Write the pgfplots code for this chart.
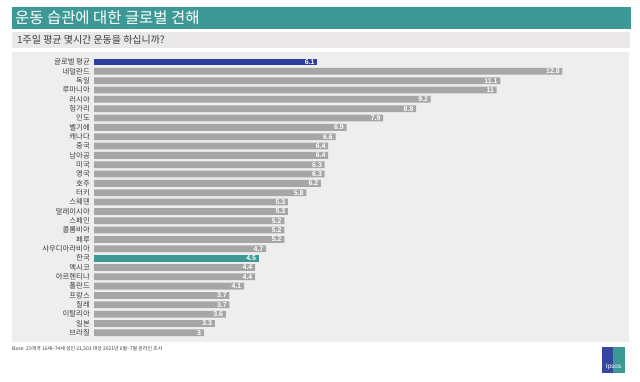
\documentclass[border=0pt]{standalone}
\usepackage{fontspec}
\setmainfont{Noto Sans CJK KR}
\newfontfamily\numfont{Liberation Sans}
\usepackage{pgfplots}
\pgfplotsset{compat=1.18}
\usepackage{pgfplotstable}
\definecolor{teal1}{RGB}{60,153,150}
\definecolor{navy1}{RGB}{46,62,158}
\definecolor{bargray}{RGB}{166,166,166}
\definecolor{panel}{RGB}{239,238,239}
\definecolor{subband}{RGB}{234,232,233}
\definecolor{labgray}{RGB}{60,60,60}
\definecolor{logoblue}{RGB}{52,72,160}

\pgfplotstableread{
y x
0 6.1
}\globaldata
\pgfplotstableread{
y x
21 4.5
}\koreadata
\pgfplotstableread{
y x
1 12.8
2 11.1
3 11
4 9.2
5 8.8
6 7.9
7 6.9
8 6.6
9 6.4
10 6.4
11 6.3
12 6.3
13 6.2
14 5.8
15 5.3
16 5.3
17 5.2
18 5.2
19 5.2
20 4.7
22 4.4
23 4.4
24 4.1
25 3.7
26 3.7
27 3.6
28 3.3
29 3
}\restdata

\begin{document}
\begin{tikzpicture}[x=1bp,y=1bp]
\useasboundingbox (0,0) rectangle (640,381);
\fill[white] (0,0) rectangle (640,381);
% title bar
\fill[teal1] (12,352) rectangle (631,374);
\node[anchor=west,text=white,inner sep=0] at (15,363) {\fontsize{15.5}{17}\selectfont 운동 습관에 대한 글로벌 견해};
% subtitle band
\fill[subband] (12,333) rectangle (630,349);
\node[anchor=west,text=labgray,inner sep=0] at (17,341) {\fontsize{10}{12}\selectfont 1주일 평균 몇시간 운동을 하십니까?};
% panel
\fill[panel] (12,39) rectangle (629,329);
% footnote
\node[anchor=west,text=labgray,inner sep=0] at (12,32) {\fontsize{5}{6}\selectfont \textit{Base}: 29개국 16세\textasciitilde74세 성인 21,503 대상 2021년 6월\textasciitilde7월 온라인 조사};
% logo
\fill[teal1] (602,8) rectangle (625,34);
\fill[logoblue] (602,8) rectangle (613,34);
\fill[logoblue] (609,20) -- (609,31) .. controls (616,31) and (617,24) .. (613,20) -- cycle;
\fill[teal1] (613,20) -- (613,31) .. controls (619,31) and (620,24) .. (616,20) -- cycle;
\node[text=white,inner sep=0] at (613.5,14) {\numfont\fontsize{6.5}{7}\selectfont Ipsos};

\begin{axis}[
  at={(94bp,43.5bp)}, anchor=south west,
  scale only axis, width=512.4bp, height=280.2bp,
  xmin=0, xmax=14, ymin=-0.5, ymax=29.5,
  y dir=reverse,
  xbar, bar width=6.8bp, bar shift=0pt,
  axis line style={draw=none},
  major tick length=0pt,
  xtick=\empty,
  ytick={0,...,29},
  yticklabels={글로벌 평균,네덜란드,독일,루마니아,러시아,헝가리,인도,벨기에,캐나다,중국,남아공,미국,영국,호주,터키,스웨덴,말레이시아,스페인,콜롬비아,페루,사우디아라비아,한국,멕시코,아르헨티나,폴란드,프랑스,칠레,이탈리아,일본,브라질},
  yticklabel style={font=\fontsize{7.4}{8}\selectfont, text=labgray, inner sep=1bp, xshift=-3bp},
  nodes near coords,
  point meta=x,
  /pgf/number format/assume math mode=true,
  every node near coord/.append style={anchor=east, xshift=-2bp, text=white, font=\numfont\bfseries\fontsize{7}{7}\selectfont, inner sep=0.5bp},
  clip=false,
]
\addplot[fill=navy1, draw=none] table[x=x,y=y] {\globaldata};
\addplot[fill=teal1, draw=none] table[x=x,y=y] {\koreadata};
\addplot[fill=bargray, draw=none] table[x=x,y=y] {\restdata};
\end{axis}
\end{tikzpicture}
\end{document}
